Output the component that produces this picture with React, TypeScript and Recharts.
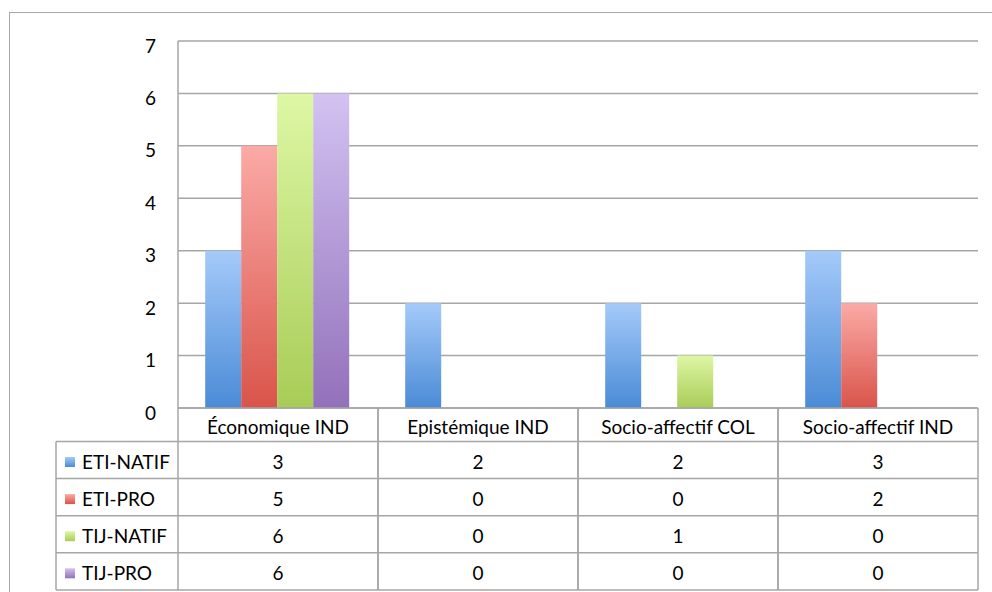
import React from 'react';
import { BarChart, Bar, XAxis, YAxis, CartesianGrid } from 'recharts';

const categories = ['Économique IND', 'Epistémique IND', 'Socio-affectif COL', 'Socio-affectif IND'];
const seriesNames = ['ETI-NATIF', 'ETI-PRO', 'TIJ-NATIF', 'TIJ-PRO'];
const etiNatif = [3, 2, 2, 3];
const etiPro = [5, 0, 0, 2];
const tijNatif = [6, 0, 1, 0];
const tijPro = [6, 0, 0, 0];
const yTicks = [0, 1, 2, 3, 4, 5, 6, 7];

const seriesValues = [etiNatif, etiPro, tijNatif, tijPro];

// bar gradients, light at top, darker at bottom
const gradients = [
  { id: 'gBlue', top: '#a5cafa', bottom: '#4a8bd6' },
  { id: 'gRed', top: '#fbaaa6', bottom: '#d9544a' },
  { id: 'gGreen', top: '#def7a5', bottom: '#a8cc57' },
  { id: 'gPurple', top: '#d3c2f2', bottom: '#9271ba' },
];

const data = categories.map((name, i) => {
  const row: Record<string, string | number> = { name };
  seriesNames.forEach((s, j) => {
    row[s] = seriesValues[j][i];
  });
  return row;
});

const W = 992;
const H = 592;
const PLOT_LEFT = 178;
const PLOT_RIGHT = 978;
const PLOT_TOP = 41;
const PLOT_BOTTOM = 408;
const Y_AXIS_W = 60;
const LEGEND_LEFT = 56;
const HEADER_H = 33.5;
const ROW_H = 37.1;
const LINE = '#a6a6a6';
const FONT = 'Lato, "Open Sans", sans-serif';
const TEXT_SIZE = 19;

function YTick(props: any) {
  const { x, y, payload } = props;
  return (
    <text x={x - 22} y={y + 4} textAnchor="end" dominantBaseline="central" fontSize={TEXT_SIZE} fill="#000" fontFamily={FONT}>
      {payload.value}
    </text>
  );
}

function TableColumn(props: any) {
  const { x, y, payload, index } = props;
  const colW = (PLOT_RIGHT - PLOT_LEFT) / categories.length;
  const left = x - colW / 2;
  const right = x + colW / 2;
  const headerBottom = y + HEADER_H;
  const tableBottom = headerBottom + ROW_H * seriesNames.length;
  const catIndex = categories.indexOf(payload.value);
  const rowLines = seriesNames.map((_, k) => headerBottom + ROW_H * (k + 1));

  return (
    <g fontFamily={FONT} fill="#000">
      <line x1={left} x2={left} y1={y} y2={tableBottom} stroke={LINE} strokeWidth={1.5} />
      <line x1={right} x2={right} y1={y} y2={tableBottom} stroke={LINE} strokeWidth={1.5} />
      <line x1={left} x2={right} y1={headerBottom} y2={headerBottom} stroke={LINE} strokeWidth={1.5} />
      {rowLines.map((ly, k) => (
        <line key={k} x1={left} x2={right} y1={ly} y2={ly} stroke={LINE} strokeWidth={1.5} />
      ))}
      <text x={x} y={y + 26} textAnchor="middle" fontSize={TEXT_SIZE}>
        {payload.value}
      </text>
      {seriesValues.map((vals, k) => (
        <text key={k} x={x} y={headerBottom + ROW_H * k + 27.5} textAnchor="middle" fontSize={TEXT_SIZE}>
          {vals[catIndex]}
        </text>
      ))}
      {index === 0 && (
        <g>
          <line x1={LEGEND_LEFT} x2={LEGEND_LEFT} y1={headerBottom} y2={tableBottom} stroke={LINE} strokeWidth={1.5} />
          <line x1={LEGEND_LEFT} x2={left} y1={headerBottom} y2={headerBottom} stroke={LINE} strokeWidth={1.5} />
          {rowLines.map((ly, k) => (
            <line key={k} x1={LEGEND_LEFT} x2={left} y1={ly} y2={ly} stroke={LINE} strokeWidth={1.5} />
          ))}
          {seriesNames.map((s, k) => (
            <g key={s}>
              <rect x={65} y={headerBottom + ROW_H * k + 15.5} width={10} height={10} fill={`url(#${gradients[k].id})`} />
              <text x={82} y={headerBottom + ROW_H * k + 27.5} fontSize={TEXT_SIZE}>
                {s}
              </text>
            </g>
          ))}
        </g>
      )}
    </g>
  );
}

export default function App() {
  return (
    <div style={{ position: 'relative', width: W, height: H, overflow: 'hidden', background: '#fff' }}>
      <style>{'body{margin:0}'}</style>
      <BarChart
        width={W}
        height={H}
        data={data}
        margin={{ top: PLOT_TOP, right: W - PLOT_RIGHT, bottom: 0, left: PLOT_LEFT - Y_AXIS_W }}
        barCategoryGap="13.6%"
        barGap={0}
      >
        <defs>
          {gradients.map((g) => (
            <linearGradient key={g.id} id={g.id} x1="0" y1="0" x2="0" y2="1">
              <stop offset="0%" stopColor={g.top} />
              <stop offset="100%" stopColor={g.bottom} />
            </linearGradient>
          ))}
        </defs>
        <CartesianGrid vertical={false} stroke={LINE} strokeWidth={1.5} />
        <XAxis
          dataKey="name"
          height={H - PLOT_BOTTOM}
          tickLine={false}
          tickSize={0}
          tickMargin={0}
          axisLine={{ stroke: LINE, strokeWidth: 1.5 }}
          tick={<TableColumn />}
          interval={0}
        />
        <YAxis
          width={Y_AXIS_W}
          domain={[0, 7]}
          ticks={yTicks}
          tickLine={false}
          tickSize={0}
          tickMargin={0}
          axisLine={{ stroke: LINE, strokeWidth: 1.5 }}
          tick={<YTick />}
        />
        {seriesNames.map((s, k) => (
          <Bar key={s} dataKey={s} fill={`url(#${gradients[k].id})`} isAnimationActive={false} />
        ))}
      </BarChart>
      <div
        style={{
          position: 'absolute',
          left: 9,
          top: 12,
          width: W,
          height: H,
          borderTop: '1px solid #a8a8a8',
          borderLeft: '1px solid #a8a8a8',
          pointerEvents: 'none',
        }}
      />
    </div>
  );
}
